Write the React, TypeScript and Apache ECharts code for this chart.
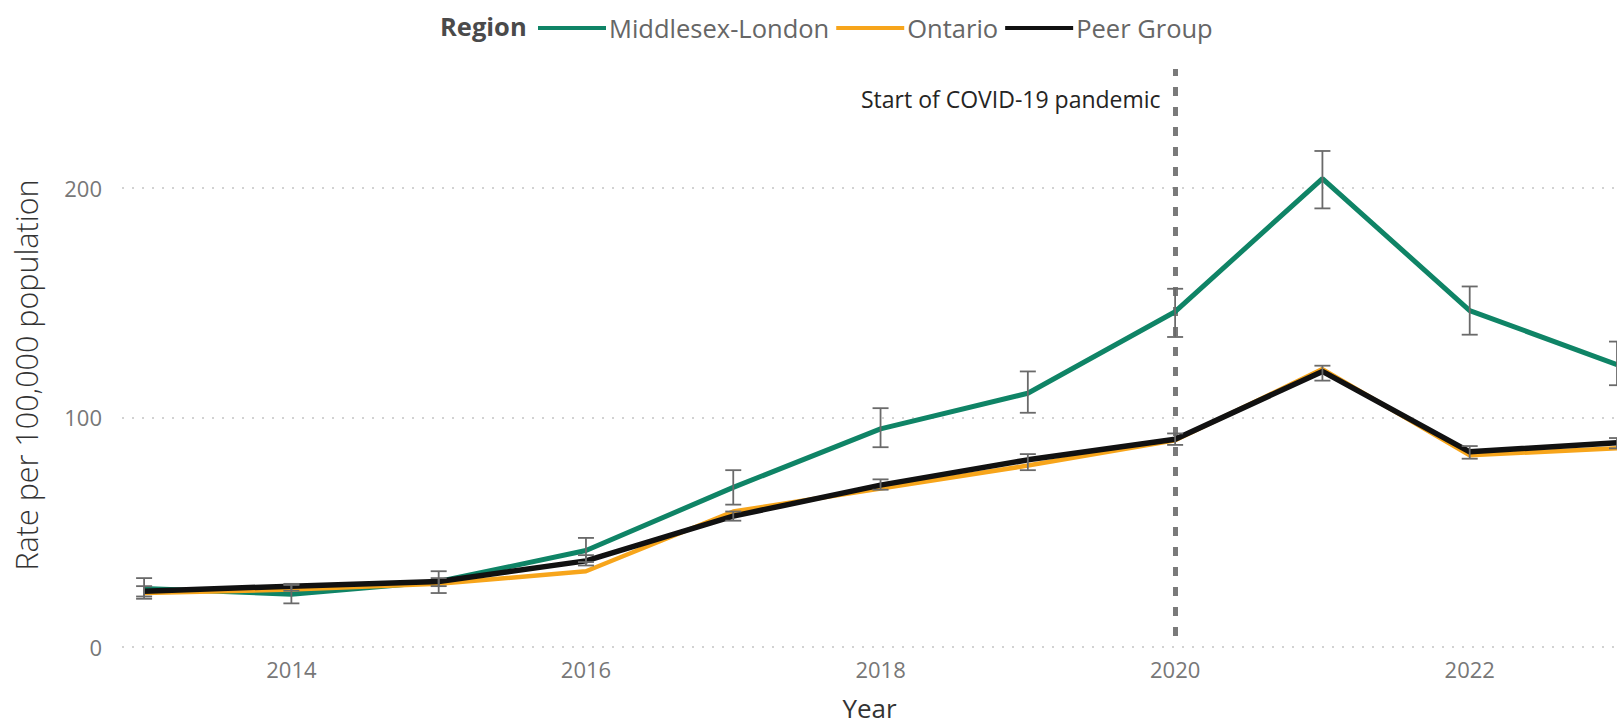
import React, { useEffect, useRef } from "react";
import * as echarts from "echarts";

const years = [2013, 2014, 2015, 2016, 2017, 2018, 2019, 2020, 2021, 2022, 2023];
const middlesexLondon = [25.5, 23, 28.5, 42, 69.5, 95, 110.5, 146, 204, 146.5, 123];
const ontario = [23.5, 25, 27.5, 33, 59, 69, 79, 90, 121, 83.5, 86.5];
const peerGroup = [24.3, 26.5, 28.5, 37.5, 57, 70.5, 81.5, 90.5, 120, 85, 89];
const mlLower = [21, 19, 23.5, 37, 62, 87, 102, 135, 191, 136, 114];
const mlUpper = [30, 27, 33, 47.5, 77, 104, 120, 156, 216, 157, 133];
const peerLower = [22, 24.5, 26.5, 35.5, 55, 68.5, 77, 88, 116, 82, 86.5];
const peerUpper = [26.5, 27.5, 30, 40, 59, 73, 84, 93, 122.5, 87.5, 91];
const xTickLabels = [2014, 2016, 2018, 2020, 2022];
const yTickInterval = 100;
const covidYear = 2020;
const covidLabel = "Start of COVID-19 pandemic";

const FONT = "'Segoe UI', 'Open Sans', sans-serif";

export default function App() {
  const ref = useRef<HTMLDivElement>(null);
  useEffect(() => {
    if (!ref.current) return;
    const chart = echarts.init(ref.current, undefined, { renderer: "svg" });
    const pair = (arr: number[]) => years.map((y, i) => [y, arr[i]]);
    const errData = (lo: number[], hi: number[]) => years.map((y, i) => [y, lo[i], hi[i]]);
    const errStyle = { stroke: "#6a6a6a", lineWidth: 1.8 };
    const renderErr = (params: any, api: any) => {
      const x = api.value(0);
      const top = api.coord([x, api.value(2)]);
      const bot = api.coord([x, api.value(1)]);
      const hw = 8;
      return {
        type: "group",
        children: [
          { type: "line", shape: { x1: top[0], y1: top[1], x2: bot[0], y2: bot[1] }, style: errStyle },
          { type: "line", shape: { x1: top[0] - hw, y1: top[1], x2: top[0] + hw, y2: top[1] }, style: errStyle },
          { type: "line", shape: { x1: bot[0] - hw, y1: bot[1], x2: bot[0] + hw, y2: bot[1] }, style: errStyle },
        ],
      };
    };
    chart.setOption({
      animation: false,
      textStyle: { fontFamily: FONT },
      title: {
        text: "Region",
        left: 435,
        top: 8,
        textStyle: { fontFamily: FONT, fontWeight: "bold", fontSize: 25.5, color: "#4a4a4a" },
      },
      legend: {
        data: ["Middlesex-London", "Ontario", "Peer Group"],
        left: 533,
        top: 10,
        icon: "rect",
        itemWidth: 68,
        itemHeight: 4,
        itemGap: 7,
        textStyle: { fontFamily: FONT, fontSize: 25.5, color: "#666", padding: [0, 0, 0, -2] },
      },
      grid: { left: 122, right: 0, top: 69, bottom: 76, containLabel: false },
      xAxis: {
        type: "value",
        min: 2012.85,
        max: 2023.0,
        name: "Year",
        nameLocation: "middle",
        nameGap: 48,
        nameTextStyle: { fontFamily: FONT, fontSize: 26, color: "#333" },
        axisLine: { show: false },
        axisTick: { show: false },
        splitLine: { show: false },
        axisLabel: {
          customValues: xTickLabels,
          formatter: (v: number) => String(v),
          fontFamily: FONT,
          fontSize: 22,
          color: "#777",
          margin: 11,
        },
      },
      yAxis: {
        type: "value",
        min: 0,
        max: 251.7,
        interval: yTickInterval,
        name: "Rate per 100,000 population",
        nameLocation: "middle",
        nameGap: 81,
        nameTextStyle: {
          fontFamily: FONT,
          fontSize: 30.5,
          fontWeight: 300,
          color: "#333",
          padding: [0, 34, 0, 0],
        },
        axisLine: { show: false },
        axisTick: { show: false },
        axisLabel: {
          fontFamily: FONT,
          fontSize: 22,
          color: "#777",
          margin: 20,
          showMaxLabel: false,
          formatter: (v: number) => (v % yTickInterval === 0 ? String(v) : ""),
        },
        splitLine: {
          show: true,
          showMaxLine: false,
          lineStyle: { color: "#c4c4c4", width: 1.5, type: [2, 8] },
        },
      },
      series: [
        {
          name: "Middlesex-London",
          type: "line",
          data: pair(middlesexLondon),
          symbol: "none",
          lineStyle: { color: "#0f8466", width: 5 },
          itemStyle: { color: "#0f8466" },
          z: 2,
          markLine: {
            silent: true,
            symbol: "none",
            label: { show: false },
            lineStyle: { color: "#7a7a7a", width: 5, type: [9, 11], dashOffset: 9 },
            data: [{ xAxis: covidYear }],
            z: 1,
          },
          markPoint: {
            silent: true,
            symbol: "circle",
            symbolSize: 1,
            itemStyle: { color: "transparent" },
            label: {
              show: true,
              position: "left",
              distance: 14,
              formatter: covidLabel,
              fontFamily: FONT,
              fontSize: 23,
              color: "#252423",
            },
            data: [{ coord: [covidYear, 238.5] }],
          },
        },
        {
          name: "Ontario",
          type: "line",
          data: pair(ontario),
          symbol: "none",
          lineStyle: { color: "#f7a51b", width: 4.5 },
          itemStyle: { color: "#f7a51b" },
          z: 3,
        },
        {
          name: "Peer Group",
          type: "line",
          data: pair(peerGroup),
          symbol: "none",
          lineStyle: { color: "#111111", width: 5.5 },
          itemStyle: { color: "#111111" },
          z: 4,
        },
        {
          name: "ML CI",
          type: "custom",
          renderItem: renderErr,
          data: errData(mlLower, mlUpper),
          encode: { x: 0, y: [1, 2] },
          z: 5,
          silent: true,
        },
        {
          name: "Peer CI",
          type: "custom",
          renderItem: renderErr,
          data: errData(peerLower, peerUpper),
          encode: { x: 0, y: [1, 2] },
          z: 5,
          silent: true,
        },
      ],
    });
    return () => chart.dispose();
  }, []);
  return (
    <div
      ref={ref}
      style={{ position: "fixed", left: 0, top: 0, width: 1617, height: 726, background: "#fff" }}
    />
  );
}
